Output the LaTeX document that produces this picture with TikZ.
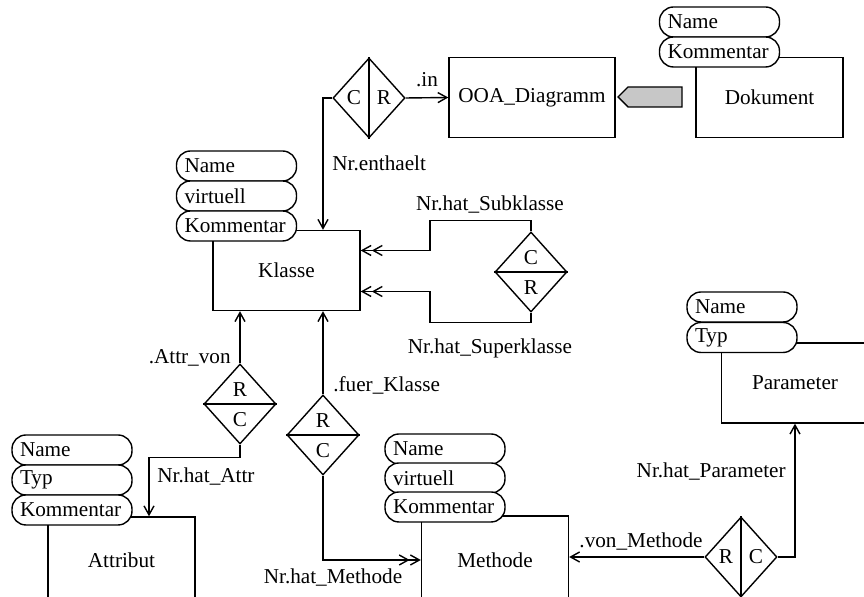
\documentclass[tikz,border=0pt]{standalone}
\usepackage{fontspec}
\setmainfont{Liberation Serif}
\usetikzlibrary{shapes.geometric,shapes.symbols,arrows.meta,calc}
\tikzstyle{arrow} = [->,>={Straight Barb[length=4.5pt,width=5pt]}]
\tikzstyle{darrow} = [->>,>={Straight Barb[length=4.5pt,width=5pt]}]
\tikzstyle{entity} = [draw,inner sep=0pt,minimum width=73.5pt,minimum height=40pt]
\tikzstyle{attr} = [draw,fill=white,rounded corners=7pt,minimum height=15pt,inner xsep=4pt,inner ysep=0pt,text width=52pt,align=left]
\tikzstyle{rel} = [draw,diamond,inner sep=0pt,minimum width=36pt,minimum height=40pt]

\begin{document}
\begin{tikzpicture}[x=0.5pt,y=-0.5pt,line width=0.7pt,font=\fontsize{10.6}{12.5}\selectfont]
      \useasboundingbox (0,0) rectangle (864,597);
      \clip (0,0) rectangle (864,597);

      \node[entity,minimum width=83pt] (ooa) at (532,97.5) {OOA\_Diagramm};
      \node[entity] (dokument) at (769.5,97.5) {Dokument};
      \node[entity] (klasse) at (286.5,270.5) {Klasse};
      \node[entity,minimum height=43pt] (attribut) at (121.5,560) {Attribut};
      \node[entity,minimum height=44pt] (methode) at (495,560) {Methode};
      \node[entity] (parameter) at (795,383) {Parameter};

      \node[rel] (enth) at (369,98) {};
      \node[rel] (sub) at (531,272) {};
      \node[rel] (attr) at (240,404) {};
      \node[rel] (meth) at (323,435) {};
      \node[rel] (param) at (741,557) {};
      \draw (enth.north) -- (enth.south);
      \draw (sub.west) -- (sub.east);
      \draw (attr.west) -- (attr.east);
      \draw (meth.west) -- (meth.east);
      \draw (param.north) -- (param.south);
      \node (enth-c) at (354,98) {C};
      \node (enth-r) at (384,98) {R};
      \node (sub-c) at (531,258) {C};
      \node (sub-r) at (531,288) {R};
      \node (attr-r) at (240,390) {R};
      \node (attr-c) at (240,420) {C};
      \node (meth-r) at (323,421) {R};
      \node (meth-c) at (323,451) {C};
      \node (param-r) at (726,557) {R};
      \node (param-c) at (756,557) {C};

      \node[draw,signal,signal to=west,fill=black!22,minimum width=32pt,minimum height=10pt,inner sep=0pt] (pfeil) at (655,97) {};

      \draw[arrow] (enth.west) -| (klasse.north -| meth.north);
      \draw[arrow] (enth.east) -- (ooa.west);
      \draw[darrow] (sub.north) -- ++(0,-11) -- ++(-101,0) |- ($(klasse.east)+(0,-20)$);
      \draw[darrow] (sub.south) -- ++(0,10) -- ++(-101,0) |- ($(klasse.east)+(0,21)$);
      \draw[arrow] (attr.north) -- (attr.north |- klasse.south);
      \draw[arrow] (meth.north) -- (meth.north |- klasse.south);
      \draw[arrow] (attr.south) -- ++(0,13) -| ($(attribut.north)+(27.5,0)$);
      \draw[darrow] (meth.south) |- (methode.west);
      \draw[arrow] (param.west) -- (param.west -| methode.east);
      \draw[arrow] (param.east) -| (parameter.south);

      \node (l-in) at (427,80) {.in};
      \node[anchor=west] (l-enth) at (325,163) {Nr.enthaelt};
      \node (l-sub) at (490,205) {Nr.hat\_Subklasse};
      \node (l-super) at (490,348) {Nr.hat\_Superklasse};
      \node[anchor=east] (l-attrvon) at (238,358) {.Attr\_von};
      \node[anchor=west] (l-fuer) at (326,385) {.fuer\_Klasse};
      \node[anchor=west] (l-hatattr) at (150,477) {Nr.hat\_Attr};
      \node (l-hatmeth) at (333,578) {Nr.hat\_Methode};
      \node (l-von) at (641,542) {.von\_Methode};
      \node[anchor=east] (l-hatpar) at (793,472) {Nr.hat\_Parameter};

      \node[attr] (d-name) at (719.5,22) {Name};
      \node[attr] (d-komm) at (719.5,52) {Kommentar};
      \node[attr] (k-name) at (236.5,166) {Name};
      \node[attr] (k-virt) at (236.5,196) {virtuell};
      \node[attr] (k-komm) at (236.5,226) {Kommentar};
      \node[attr,text width=47pt] (p-name) at (742,307) {Name};
      \node[attr,text width=47pt] (p-typ) at (742,337.5) {Typ};
      \node[attr] (a-name) at (72,450) {Name};
      \node[attr] (a-typ) at (72,480) {Typ};
      \node[attr] (a-komm) at (72,510) {Kommentar};
      \node[attr] (m-name) at (445,449) {Name};
      \node[attr] (m-virt) at (445,478) {virtuell};
      \node[attr] (m-komm) at (445,507) {Kommentar};
    \end{tikzpicture}
\end{document}
